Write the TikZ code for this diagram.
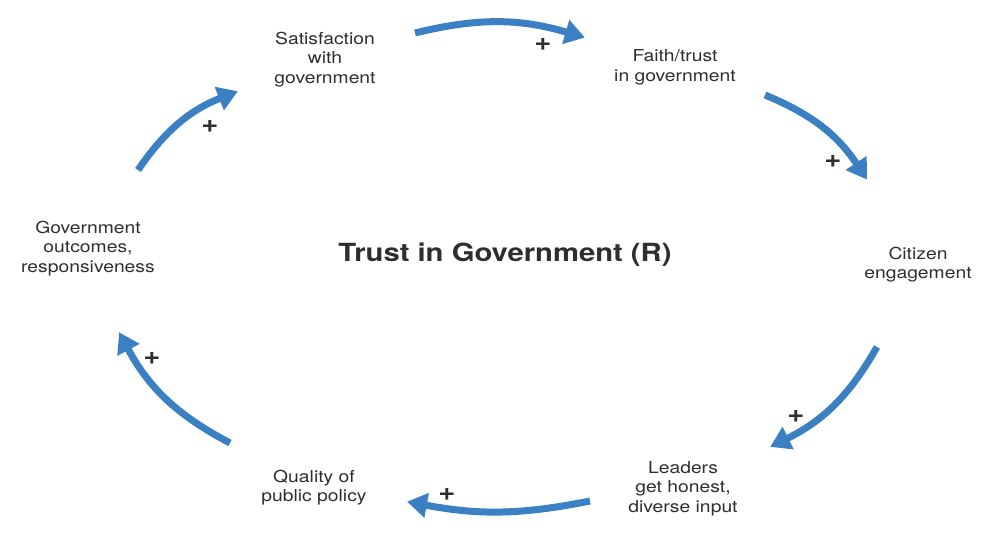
\documentclass[tikz,border=0pt]{standalone}
\usepackage{fontspec}
\setmainfont{TeX Gyre Heros}[FakeStretch=1.17]
\usetikzlibrary{arrows.meta}
\definecolor{loopblue}{HTML}{3A80C3}
\definecolor{txtgray}{HTML}{2E2E2E}
\tikzset{
  loop/.style={draw=loopblue, line width=7pt, -{Triangle[length=20pt,width=24pt]}, shorten >=-2pt},
  lbl/.style={align=center, text=txtgray, font=\fontsize{16.5}{19.5}\selectfont, inner sep=0pt},
  plus/.style={text=txtgray, font=\fontsize{25}{25}\selectfont\bfseries, inner sep=0pt},
  ttl/.style={text=txtgray, font=\fontsize{25}{28}\selectfont\bfseries, inner sep=0pt}
}
\begin{document}
\begin{tikzpicture}[x=1pt,y=1pt]
\useasboundingbox (0,0) rectangle (997,533);
% labels
\node[lbl] (sat) at (325,473.5) {Satisfaction\\with\\government};
\node[lbl] (faith) at (675,465.5) {Faith/trust\\in government};
\node[lbl] (cit) at (918,268.5) {Citizen\\engagement};
\node[lbl] (lead) at (683,44.5) {Leaders\\get honest,\\diverse input};
\node[lbl] (qual) at (314,45.5) {Quality of\\public policy};
\node[lbl] (gov) at (88,284.5) {Government\\outcomes,\\responsiveness};
\node[ttl] (title) at (505,278.5) {Trust in Government (R)};
% arrow endpoints
\coordinate (a1s) at (415,500); \coordinate (a1e) at (583,496);
\coordinate (a2s) at (765,438); \coordinate (a2e) at (866,355);
\coordinate (a3s) at (877,186); \coordinate (a3e) at (772,87);
\coordinate (a4s) at (590,32);  \coordinate (a4e) at (409,31);
\coordinate (a5s) at (230,90);  \coordinate (a5e) at (120,199);
\coordinate (a6s) at (138,363); \coordinate (a6e) at (236,441);
\draw[loop] (a1s) to[bend left=15] (a1e);
\draw[loop] (a2s) to[bend left=17] (a2e);
\draw[loop] (a3s) to[bend left=17] (a3e);
\draw[loop] (a4s) to[bend left=11] (a4e);
\draw[loop] (a5s) to[bend left=17] (a5e);
\draw[loop] (a6s) to[bend left=17] (a6e);
% plus signs
\node[plus] (p1) at (543,489) {+};
\node[plus] (p2) at (833,372) {+};
\node[plus] (p3) at (796,117) {+};
\node[plus] (p4) at (447,39) {+};
\node[plus] (p5) at (152,175) {+};
\node[plus] (p6) at (210,407) {+};
\end{tikzpicture}
\end{document}
